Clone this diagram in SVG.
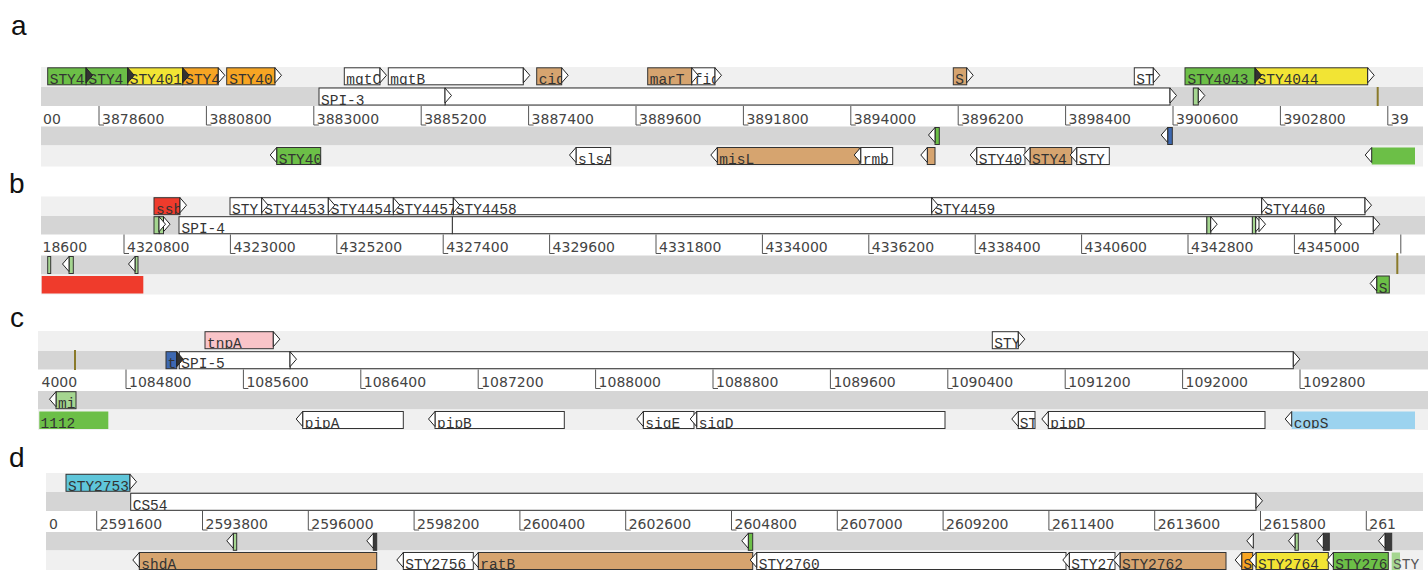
<svg xmlns="http://www.w3.org/2000/svg" xmlns:xlink="http://www.w3.org/1999/xlink" width="1428" height="570" viewBox="0 0 1428 570">
<style>
.bg1{fill:#f0f0f0}.bg2{fill:#d5d5d5}
.b{stroke:#333;stroke-width:1}
.nb{stroke:none}
.gr{fill:#6cbf47}.ye{fill:#f2e434}.or{fill:#f7a523}.tn{fill:#d6a46f}.wh{fill:#fff}
.rd{fill:#ef3b2c}.pk{fill:#f9c4c8}.bl{fill:#3d68b1}.lb{fill:#9cd3ef}.cy{fill:#5fc6da}
.lg{fill:#a5d690}.dk{fill:#3a3a3a}
.gl{font-family:"Liberation Mono","DejaVu Sans Mono",monospace;font-size:14.5px;fill:#333}
.rl{font-family:"DejaVu Sans",sans-serif;font-size:14px;fill:#444}
.tk{fill:none;stroke:#555;stroke-width:1}
.ar{fill:#fff;stroke:#222;stroke-width:1}
.ad{fill:#333;stroke:#222;stroke-width:1}
.ol{stroke:#8a7a2a;stroke-width:2}
.pl{font-family:"Liberation Sans",Arial,sans-serif;font-size:28px;fill:#111}
</style>
<defs>
<path id="fa" d="M0,0L6.5,7.5L0,15Z"/>
<path id="ra" d="M0,0L-6.5,7.5L0,15Z"/>
</defs>

<!-- panel letters -->
<text class="pl" x="11" y="35">a</text>
<text class="pl" x="9" y="193">b</text>
<text class="pl" x="10" y="327">c</text>
<text class="pl" x="9" y="467">d</text>

<!-- ===== Panel a ===== -->
<g id="panel-a">
<rect class="bg1" x="41" y="67" width="1382" height="20"/>
<rect class="bg2" x="41" y="87" width="1382" height="19"/>
<rect class="bg2" x="41" y="126.5" width="1382" height="19"/>
<rect class="bg1" x="41" y="145.5" width="1382" height="21"/>
<path class="tk" d="M99,106v19h5M206.4,106v19h5M313.8,106v19h5M421.2,106v19h5M528.6,106v19h5M636,106v19h5M743.4,106v19h5M850.8,106v19h5M958.2,106v19h5M1065.6,106v19h5M1173,106v19h5M1280.4,106v19h5M1387.8,106v19h5"/>
<g class="rl">
<text x="43" y="123.5">00</text>
<text x="102" y="123.5">3878600</text>
<text x="209.4" y="123.5">3880800</text>
<text x="316.8" y="123.5">3883000</text>
<text x="424.2" y="123.5">3885200</text>
<text x="531.6" y="123.5">3887400</text>
<text x="639" y="123.5">3889600</text>
<text x="746.4" y="123.5">3891800</text>
<text x="853.8" y="123.5">3894000</text>
<text x="961.2" y="123.5">3896200</text>
<text x="1068.6" y="123.5">3898400</text>
<text x="1176" y="123.5">3900600</text>
<text x="1283.4" y="123.5">3902800</text>
<text x="1390.8" y="123.5">39</text>
</g>
</g>
<g id="a-r1">
<g id="a-STY4044"><rect class="b ye" x="1255" y="67.8" width="112.7" height="17"/><svg x="1255" y="67.8" width="112.7" height="17"><text class="gl" x="2.5" y="16.5">STY4044</text></svg><use href="#fa" class="ar" x="1367.7" y="67.8"/></g>
<g id="a-STY4043"><rect class="b gr" x="1185" y="67.8" width="70" height="17"/><svg x="1185" y="67.8" width="70" height="17"><text class="gl" x="2.5" y="16.5">STY4043</text></svg><use href="#fa" class="ad" x="1255" y="67.8"/></g>
<g id="a-ST"><rect class="b wh" x="1134.3" y="67.8" width="19" height="17"/><svg x="1134.3" y="67.8" width="19" height="17"><text class="gl" x="2" y="16.5">ST</text></svg><use href="#fa" class="ar" x="1153.3" y="67.8"/></g>
<g id="a-S"><rect class="b tn" x="953.3" y="67.8" width="13.4" height="17"/><svg x="953.3" y="67.8" width="13.4" height="17"><text class="gl" x="2" y="16.5">S</text></svg><use href="#fa" class="ar" x="966.7" y="67.8"/></g>
<g id="a-fid"><rect class="b wh" x="691.7" y="67.8" width="23.3" height="17"/><svg x="691.7" y="67.8" width="23.3" height="17"><text class="gl" x="2" y="16.5">fid</text></svg><use href="#fa" class="ar" x="715" y="67.8"/></g>
<g id="a-marT"><rect class="b tn" x="647.7" y="67.8" width="44" height="17"/><svg x="647.7" y="67.8" width="44" height="17"><text class="gl" x="2" y="16.5">marT</text></svg><use href="#fa" class="ar" x="691.7" y="67.8"/></g>
<g id="a-cig"><rect class="b tn" x="536.7" y="67.8" width="25" height="17"/><svg x="536.7" y="67.8" width="25" height="17"><text class="gl" x="2" y="16.5">cig</text></svg><use href="#fa" class="ar" x="561.7" y="67.8"/></g>
<g id="a-mgtB"><rect class="b wh" x="388.3" y="67.8" width="135" height="17"/><svg x="388.3" y="67.8" width="135" height="17"><text class="gl" x="2" y="16.5">mgtB</text></svg><use href="#fa" class="ar" x="523.3" y="67.8"/></g>
<g id="a-mgtC"><rect class="b wh" x="344.3" y="67.8" width="35.7" height="17"/><svg x="344.3" y="67.8" width="35.7" height="17"><text class="gl" x="2" y="16.5">mgtC</text></svg><use href="#fa" class="ar" x="380" y="67.8"/></g>
<g id="a-STY40a"><rect class="b or" x="226.7" y="67.8" width="48.3" height="17"/><svg x="226.7" y="67.8" width="48.3" height="17"><text class="gl" x="2.5" y="16.5">STY40</text></svg><use href="#fa" class="ar" x="275" y="67.8"/></g>
<g id="a-STY4d"><rect class="b or" x="182.7" y="67.8" width="35.6" height="17"/><svg x="182.7" y="67.8" width="35.6" height="17"><text class="gl" x="2.5" y="16.5">STY4</text></svg><use href="#fa" class="ar" x="218.3" y="67.8"/></g>
<g id="a-STY401"><rect class="b ye" x="127.7" y="67.8" width="55" height="17"/><svg x="127.7" y="67.8" width="55" height="17"><text class="gl" x="2" y="16.5">STY401</text></svg><use href="#fa" class="ad" x="182.7" y="67.8"/></g>
<g id="a-STY4b"><rect class="b gr" x="86" y="67.8" width="41.7" height="17"/><svg x="86" y="67.8" width="41.7" height="17"><text class="gl" x="2.5" y="16.5">STY4</text></svg><use href="#fa" class="ad" x="127.7" y="67.8"/></g>
<g id="a-STY4a"><rect class="b gr" x="47.7" y="67.8" width="38.3" height="17"/><svg x="47.7" y="67.8" width="38.3" height="17"><text class="gl" x="2" y="16.5">STY4</text></svg><use href="#fa" class="ad" x="86" y="67.8"/></g>
</g>
<g id="a-r2">
<g id="a-small1"><rect class="b lg" x="1193.3" y="88" width="5" height="17"/><use href="#fa" class="ar" x="1198.3" y="88"/></g>
<g id="a-SPI3b"><rect class="b wh" x="445" y="88" width="725" height="17"/><use href="#fa" class="ar" x="1170" y="88"/></g>
<g id="a-SPI3"><rect class="b wh" x="319" y="88" width="126" height="17"/><svg x="319" y="88" width="126" height="17"><text class="gl" x="2" y="16.5">SPI-3</text></svg><use href="#fa" class="ar" x="445" y="88"/></g>
<line id="a-mark" class="ol" x1="1377.7" y1="87" x2="1377.7" y2="106"/>
</g>
<g id="a-r4">
<g id="a-r4g1"><rect class="b gr" x="935" y="127.5" width="4.3" height="17"/><use href="#ra" class="ar" x="935" y="127.5"/></g>
<g id="a-r4g2"><rect class="b bl" x="1167.7" y="127.5" width="4.6" height="17"/><use href="#ra" class="ar" x="1167.7" y="127.5"/></g>
</g>
<g id="a-r5">
<g id="a-STY40b"><rect class="b gr" x="276.7" y="147.5" width="44" height="17"/><svg x="276.7" y="147.5" width="44" height="17"><text class="gl" x="2" y="16.5">STY40</text></svg><use href="#ra" class="ar" x="276.7" y="147.5"/></g>
<g id="a-slsA"><rect class="b wh" x="576" y="147.5" width="34.7" height="17"/><svg x="576" y="147.5" width="34.7" height="17"><text class="gl" x="2" y="16.5">slsA</text></svg><use href="#ra" class="ar" x="576" y="147.5"/></g>
<g id="a-misL"><rect class="b tn" x="717.3" y="147.5" width="142" height="17"/><svg x="717.3" y="147.5" width="142" height="17"><text class="gl" x="2" y="16.5">misL</text></svg><use href="#ra" class="ar" x="717.3" y="147.5"/></g>
<g id="a-rmb"><rect class="b wh" x="860.7" y="147.5" width="32" height="17"/><svg x="860.7" y="147.5" width="32" height="17"><text class="gl" x="2" y="16.5">rmb</text></svg><use href="#ra" class="ar" x="860.7" y="147.5"/></g>
<g id="a-r5t"><rect class="b tn" x="927.3" y="147.5" width="7.7" height="17"/><use href="#ra" class="ar" x="927.3" y="147.5"/></g>
<g id="a-STY40c"><rect class="b wh" x="976.7" y="147.5" width="48.3" height="17"/><svg x="976.7" y="147.5" width="48.3" height="17"><text class="gl" x="2" y="16.5">STY40</text></svg><use href="#ra" class="ar" x="976.7" y="147.5"/></g>
<g id="a-STY4e"><rect class="b tn" x="1030" y="147.5" width="41.7" height="17"/><svg x="1030" y="147.5" width="41.7" height="17"><text class="gl" x="2" y="16.5">STY4</text></svg><use href="#ra" class="ar" x="1030" y="147.5"/></g>
<g id="a-STY"><rect class="b wh" x="1076.7" y="147.5" width="32.6" height="17"/><svg x="1076.7" y="147.5" width="32.6" height="17"><text class="gl" x="2" y="16.5">STY</text></svg><use href="#ra" class="ar" x="1076.7" y="147.5"/></g>
<g id="a-r5end"><rect class="nb gr" x="1371.7" y="147.5" width="43.3" height="17"/><use href="#ra" class="ar" x="1371.7" y="147.5"/></g>
</g>

<!-- ===== Panel b ===== -->
<g id="panel-b">
<rect class="bg1" x="41" y="196.5" width="1384" height="19.5"/>
<rect class="bg2" x="41" y="216" width="1384" height="18.5"/>
<rect class="bg2" x="41" y="255.5" width="1384" height="19"/>
<rect class="bg1" x="41" y="274.5" width="1384" height="20"/>
<path class="tk" d="M124,234.5v19h5M230.4,234.5v19h5M336.8,234.5v19h5M443.2,234.5v19h5M549.6,234.5v19h5M656,234.5v19h5M762.4,234.5v19h5M868.8,234.5v19h5M975.2,234.5v19h5M1081.6,234.5v19h5M1188,234.5v19h5M1294.4,234.5v19h5M1400.8,234.5v19"/>
<g class="rl">
<text x="42.5" y="252">18600</text>
<text x="127" y="252">4320800</text>
<text x="233.4" y="252">4323000</text>
<text x="339.8" y="252">4325200</text>
<text x="446.2" y="252">4327400</text>
<text x="552.6" y="252">4329600</text>
<text x="659" y="252">4331800</text>
<text x="765.4" y="252">4334000</text>
<text x="871.8" y="252">4336200</text>
<text x="978.2" y="252">4338400</text>
<text x="1084.6" y="252">4340600</text>
<text x="1191" y="252">4342800</text>
<text x="1297.4" y="252">4345000</text>
</g>
</g>
<g id="b-r1">
<g id="b-STY4460"><rect class="b wh" x="1261.7" y="197.7" width="103.3" height="17"/><svg x="1261.7" y="197.7" width="103.3" height="17"><text class="gl" x="2.5" y="16.5">STY4460</text></svg><use href="#fa" class="ar" x="1365" y="197.7"/></g>
<g id="b-STY4459"><rect class="b wh" x="931.7" y="197.7" width="330" height="17"/><svg x="931.7" y="197.7" width="330" height="17"><text class="gl" x="2.5" y="16.5">STY4459</text></svg><use href="#fa" class="ar" x="1261.7" y="197.7"/></g>
<g id="b-STY4458"><rect class="b wh" x="453.3" y="197.7" width="478.4" height="17"/><svg x="453.3" y="197.7" width="478.4" height="17"><text class="gl" x="2.5" y="16.5">STY4458</text></svg><use href="#fa" class="ar" x="931.7" y="197.7"/></g>
<g id="b-STY4457"><rect class="b wh" x="393.3" y="197.7" width="60" height="17"/><svg x="393.3" y="197.7" width="60" height="17"><text class="gl" x="2.5" y="16.5">STY4457</text></svg><use href="#fa" class="ar" x="453.3" y="197.7"/></g>
<g id="b-STY4454"><rect class="b wh" x="328.3" y="197.7" width="65" height="17"/><svg x="328.3" y="197.7" width="65" height="17"><text class="gl" x="2.5" y="16.5">STY4454</text></svg><use href="#fa" class="ar" x="393.3" y="197.7"/></g>
<g id="b-STY4453"><rect class="b wh" x="261.7" y="197.7" width="66.6" height="17"/><svg x="261.7" y="197.7" width="66.6" height="17"><text class="gl" x="2.5" y="16.5">STY4453</text></svg><use href="#fa" class="ar" x="328.3" y="197.7"/></g>
<g id="b-STY"><rect class="b wh" x="230" y="197.7" width="31.7" height="17"/><svg x="230" y="197.7" width="31.7" height="17"><text class="gl" x="2" y="16.5">STY</text></svg><use href="#fa" class="ar" x="261.7" y="197.7"/></g>
<g id="b-ssb"><rect class="b rd" x="154" y="197.7" width="26" height="17"/><svg x="154" y="197.7" width="26" height="17"><text class="gl" x="2" y="16.5">ssb</text></svg><use href="#fa" class="ar" x="180" y="197.7"/></g>
</g>
<g id="b-r2">
<g id="b-r2w5"><rect class="b wh" x="1335" y="216.7" width="38.3" height="17"/><use href="#fa" class="ar" x="1373.3" y="216.7"/></g>
<g id="b-r2w4"><rect class="b wh" x="1255.7" y="216.7" width="79.3" height="17"/><use href="#fa" class="ar" x="1335" y="216.7"/></g>
<g id="b-r2g3"><rect class="b lg" x="1252.3" y="216.7" width="3.4" height="17"/><use href="#fa" class="ar" x="1255.7" y="216.7"/><use href="#fa" class="ar" x="1259" y="216.7"/></g>
<g id="b-r2w3"><rect class="b wh" x="1210.7" y="216.7" width="41.6" height="17"/></g>
<g id="b-r2g2"><rect class="b lg" x="1206.7" y="216.7" width="4" height="17"/><use href="#fa" class="ar" x="1210.7" y="216.7"/></g>
<g id="b-r2w2"><rect class="b wh" x="452.3" y="216.7" width="754.4" height="17"/></g>
<g id="b-SPI4"><rect class="b wh" x="179" y="216.7" width="273.3" height="17"/><svg x="179" y="216.7" width="273.3" height="17"><text class="gl" x="2.5" y="16.5">SPI-4</text></svg></g>
<g id="b-r2g1b"><rect class="b lg" x="159.3" y="216.7" width="4.2" height="17"/><use href="#fa" class="ar" x="163.5" y="216.7"/></g>
<g id="b-r2g1a"><rect class="b lg" x="154" y="216.7" width="5" height="17"/><use href="#fa" class="ar" x="159" y="216.7"/></g>
</g>
<g id="b-r4">
<g id="b-r4g1"><rect class="b lg" x="47.7" y="256.5" width="3" height="17"/></g>
<g id="b-r4g2"><rect class="b lg" x="69" y="256.5" width="4.3" height="17"/><use href="#ra" class="ar" x="69" y="256.5"/></g>
<g id="b-r4g3"><rect class="b lg" x="135" y="256.5" width="3" height="17"/><use href="#ra" class="ar" x="135" y="256.5"/></g>
<line id="b-mark" class="ol" x1="1397.3" y1="253" x2="1397.3" y2="274"/>
</g>
<g id="b-r5">
<g id="b-r5red"><rect class="nb rd" x="41.7" y="276" width="101.6" height="17.5"/></g>
<g id="b-S"><rect class="b gr" x="1376.7" y="276" width="12.6" height="17"/><svg x="1376.7" y="276" width="12.6" height="17"><text class="gl" x="2" y="16.5">S</text></svg><use href="#ra" class="ar" x="1376.7" y="276"/></g>
</g>

<!-- ===== Panel c ===== -->
<g id="panel-c">
<rect class="bg1" x="38" y="331" width="1390" height="20"/>
<rect class="bg2" x="38" y="351" width="1390" height="18.5"/>
<rect class="bg2" x="38" y="391" width="1390" height="18.5"/>
<rect class="bg1" x="38" y="409.5" width="1390" height="20.5"/>
<path class="tk" d="M126,369.5v19h5M243.4,369.5v19h5M360.8,369.5v19h5M478.2,369.5v19h5M595.6,369.5v19h5M713,369.5v19h5M830.4,369.5v19h5M947.8,369.5v19h5M1065.2,369.5v19h5M1182.6,369.5v19h5M1300,369.5v19h5"/>
<g class="rl">
<text x="41.5" y="387">4000</text>
<text x="129" y="387">1084800</text>
<text x="246.4" y="387">1085600</text>
<text x="363.8" y="387">1086400</text>
<text x="481.2" y="387">1087200</text>
<text x="598.6" y="387">1088000</text>
<text x="716" y="387">1088800</text>
<text x="833.4" y="387">1089600</text>
<text x="950.8" y="387">1090400</text>
<text x="1068.2" y="387">1091200</text>
<text x="1185.6" y="387">1092000</text>
<text x="1303" y="387">1092800</text>
</g>
</g>
<g id="c-r1">
<g id="c-STY"><rect class="b wh" x="992.3" y="331.7" width="26" height="17"/><svg x="992.3" y="331.7" width="26" height="17"><text class="gl" x="2" y="16.5">STY</text></svg><use href="#fa" class="ar" x="1018.3" y="331.7"/></g>
<g id="c-tnpA"><rect class="b pk" x="205" y="331.7" width="68.3" height="17"/><svg x="205" y="331.7" width="68.3" height="17"><text class="gl" x="2" y="16.5">tnpA</text></svg><use href="#fa" class="ar" x="273.3" y="331.7"/></g>
</g>
<g id="c-r2">
<line id="c-mark" class="ol" x1="75" y1="350" x2="75" y2="370"/>
<g id="c-SPI5b"><rect class="b wh" x="290" y="351.7" width="1003.3" height="17"/><use href="#fa" class="ar" x="1293.3" y="351.7"/></g>
<g id="c-SPI5"><rect class="b wh" x="179.3" y="351.7" width="110.7" height="17"/><svg x="179.3" y="351.7" width="110.7" height="17"><text class="gl" x="2" y="16.5">SPI-5</text></svg><use href="#fa" class="ar" x="290" y="351.7"/></g>
<g id="c-t"><rect class="b bl" x="166" y="351.7" width="10.7" height="17"/><svg x="166" y="351.7" width="10.7" height="17"><text class="gl" x="1.5" y="16.5">t</text></svg><use href="#fa" class="ad" x="176.7" y="351.7"/></g>
</g>
<g id="c-r4">
<g id="c-mi"><rect class="b lg" x="56" y="391.7" width="20" height="17"/><svg x="56" y="391.7" width="20" height="17"><text class="gl" x="2" y="16.5">mi</text></svg><use href="#ra" class="ar" x="56" y="391.7"/></g>
</g>
<g id="c-r5">
<g id="c-1112"><rect class="nb gr" x="39.3" y="411.5" width="69" height="17.5"/><text class="gl" x="40.5" y="428">1112</text></g>
<g id="c-pipA"><rect class="b wh" x="302.7" y="411.5" width="100.6" height="17"/><svg x="302.7" y="411.5" width="100.6" height="17"><text class="gl" x="2" y="16.5">pipA</text></svg><use href="#ra" class="ar" x="302.7" y="411.5"/></g>
<g id="c-pipB"><rect class="b wh" x="435" y="411.5" width="129.3" height="17"/><svg x="435" y="411.5" width="129.3" height="17"><text class="gl" x="2" y="16.5">pipB</text></svg><use href="#ra" class="ar" x="435" y="411.5"/></g>
<g id="c-sigE"><rect class="b wh" x="643.3" y="411.5" width="50.7" height="17"/><svg x="643.3" y="411.5" width="50.7" height="17"><text class="gl" x="2" y="16.5">sigE</text></svg><use href="#ra" class="ar" x="643.3" y="411.5"/></g>
<g id="c-sigD"><rect class="b wh" x="696.7" y="411.5" width="248.3" height="17"/><svg x="696.7" y="411.5" width="248.3" height="17"><text class="gl" x="2" y="16.5">sigD</text></svg><use href="#ra" class="ar" x="696.7" y="411.5"/></g>
<g id="c-ST"><rect class="b wh" x="1018.3" y="411.5" width="16.7" height="17"/><svg x="1018.3" y="411.5" width="16.7" height="17"><text class="gl" x="1.5" y="16.5">ST</text></svg><use href="#ra" class="ar" x="1018.3" y="411.5"/></g>
<g id="c-pipD"><rect class="b wh" x="1048.3" y="411.5" width="216.7" height="17"/><svg x="1048.3" y="411.5" width="216.7" height="17"><text class="gl" x="2" y="16.5">pipD</text></svg><use href="#ra" class="ar" x="1048.3" y="411.5"/></g>
<g id="c-copS"><rect class="nb lb" x="1291.7" y="411.5" width="123.3" height="17.5"/><svg x="1291.7" y="411.5" width="123.3" height="17"><text class="gl" x="2" y="16.5">copS</text></svg><use href="#ra" class="ar" x="1291.7" y="411.5"/></g>
</g>

<!-- ===== Panel d ===== -->
<g id="panel-d">
<rect class="bg1" x="46" y="473" width="1377" height="19"/>
<rect class="bg2" x="46" y="492" width="1377" height="19"/>
<rect class="bg2" x="46" y="532" width="1377" height="18.5"/>
<rect class="bg1" x="46" y="550.5" width="1377" height="19.5"/>
<path class="tk" d="M96.7,511v19h5M202.5,511v19h5M308.3,511v19h5M414.1,511v19h5M519.9,511v19h5M625.7,511v19h5M731.5,511v19h5M837.3,511v19h5M943.1,511v19h5M1048.9,511v19h5M1154.7,511v19h5M1260.5,511v19h5M1366.3,511v19h5"/>
<g class="rl">
<text x="49" y="528.5">0</text>
<text x="99.7" y="528.5">2591600</text>
<text x="205.5" y="528.5">2593800</text>
<text x="311.3" y="528.5">2596000</text>
<text x="417.1" y="528.5">2598200</text>
<text x="522.9" y="528.5">2600400</text>
<text x="628.7" y="528.5">2602600</text>
<text x="734.5" y="528.5">2604800</text>
<text x="840.3" y="528.5">2607000</text>
<text x="946.1" y="528.5">2609200</text>
<text x="1051.9" y="528.5">2611400</text>
<text x="1157.7" y="528.5">2613600</text>
<text x="1263.5" y="528.5">2615800</text>
<text x="1369.3" y="528.5">261</text>
</g>
</g>
<g id="d-r1">
<g id="d-STY2753"><rect class="b cy" x="66" y="474.3" width="64" height="17"/><svg x="66" y="474.3" width="64" height="17"><text class="gl" x="2" y="16.5">STY2753</text></svg><use href="#fa" class="ar" x="130" y="474.3"/></g>
</g>
<g id="d-r2">
<g id="d-CS54"><rect class="b wh" x="130.7" y="493.3" width="1125.3" height="17"/><svg x="130.7" y="493.3" width="1125.3" height="17"><text class="gl" x="2" y="16.5">CS54</text></svg><use href="#fa" class="ar" x="1256" y="493.3"/></g>
</g>
<g id="d-r4">
<g id="d-r4a"><rect class="b lg" x="233.3" y="533.3" width="3.4" height="17"/><use href="#ra" class="ar" x="233.3" y="533.3"/></g>
<g id="d-r4b"><rect class="b dk" x="373.3" y="533.3" width="3.4" height="17"/><use href="#ra" class="ar" x="373.3" y="533.3"/></g>
<g id="d-r4c"><rect class="b gr" x="748.3" y="533.3" width="4.4" height="17"/><use href="#ra" class="ar" x="748.3" y="533.3"/></g>
<g id="d-r4d"><use href="#ra" class="ar" x="1253.3" y="533.3"/></g>
<g id="d-r4e"><rect class="b lg" x="1295" y="533.3" width="3.3" height="17"/><use href="#ra" class="ar" x="1295" y="533.3"/></g>
<g id="d-r4f"><rect class="b dk" x="1323.3" y="533.3" width="6" height="17"/><use href="#ra" class="ar" x="1323.3" y="533.3"/></g>
<g id="d-r4g"><rect class="b dk" x="1385" y="533.3" width="6.7" height="17"/><use href="#ra" class="ar" x="1385" y="533.3"/></g>
</g>
<g id="d-r5">
<g id="d-shdA"><rect class="b tn" x="139.3" y="552.5" width="237.4" height="17"/><svg x="139.3" y="552.5" width="237.4" height="17"><text class="gl" x="2" y="16.5">shdA</text></svg><use href="#ra" class="ar" x="139.3" y="552.5"/></g>
<g id="d-STY2756"><rect class="b wh" x="403.3" y="552.5" width="70" height="17"/><svg x="403.3" y="552.5" width="70" height="17"><text class="gl" x="2" y="16.5">STY2756</text></svg><use href="#ra" class="ar" x="403.3" y="552.5"/></g>
<g id="d-ratB"><rect class="b tn" x="478.3" y="552.5" width="274.4" height="17"/><svg x="478.3" y="552.5" width="274.4" height="17"><text class="gl" x="2" y="16.5">ratB</text></svg><use href="#ra" class="ar" x="478.3" y="552.5"/></g>
<g id="d-STY2760"><rect class="b wh" x="756.7" y="552.5" width="309.3" height="17"/><svg x="756.7" y="552.5" width="309.3" height="17"><text class="gl" x="2" y="16.5">STY2760</text></svg><use href="#ra" class="ar" x="756.7" y="552.5"/></g>
<g id="d-STY27"><rect class="b wh" x="1069.3" y="552.5" width="45.7" height="17"/><svg x="1069.3" y="552.5" width="45.7" height="17"><text class="gl" x="2" y="16.5">STY27</text></svg><use href="#ra" class="ar" x="1069.3" y="552.5"/></g>
<g id="d-STY2762"><rect class="b tn" x="1120" y="552.5" width="106" height="17"/><svg x="1120" y="552.5" width="106" height="17"><text class="gl" x="2" y="16.5">STY2762</text></svg><use href="#ra" class="ar" x="1120" y="552.5"/></g>
<g id="d-S"><rect class="b or" x="1241.7" y="552.5" width="11" height="17"/><svg x="1241.7" y="552.5" width="11" height="17"><text class="gl" x="1.5" y="16.5">S</text></svg><use href="#ra" class="ar" x="1241.7" y="552.5"/></g>
<g id="d-STY2764"><rect class="b ye" x="1256" y="552.5" width="72.3" height="17"/><svg x="1256" y="552.5" width="72.3" height="17"><text class="gl" x="2" y="16.5">STY2764</text></svg><use href="#ra" class="ar" x="1256" y="552.5"/></g>
<g id="d-STY276"><rect class="b gr" x="1333.3" y="552.5" width="55" height="17"/><svg x="1333.3" y="552.5" width="55" height="17"><text class="gl" x="2" y="16.5">STY276</text></svg><use href="#ra" class="ar" x="1333.3" y="552.5"/></g>
<g id="d-STYend"><rect class="nb lg" x="1391.7" y="552.5" width="8.3" height="17.5"/><text class="gl" x="1393" y="569" style="fill:#555">STY</text></g>
</g>
</svg>
